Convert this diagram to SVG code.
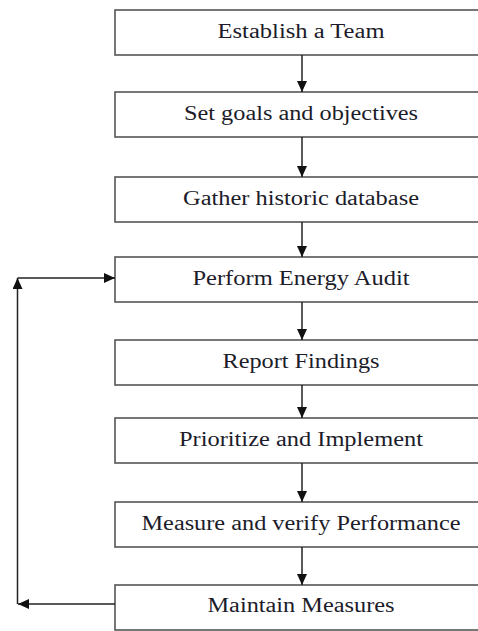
<svg xmlns="http://www.w3.org/2000/svg" width="478" height="631" viewBox="0 0 478 631">
<style>
.box{fill:#fff;stroke:#555;stroke-width:1.6}
.lbl{font-family:"Liberation Serif","Times New Roman",serif;font-size:20px;fill:#1c1c2a;text-anchor:middle}
.con{fill:none;stroke:#222;stroke-width:1.5}
</style>
<defs>
<marker id="ah" markerUnits="userSpaceOnUse" markerWidth="12" markerHeight="11" refX="11" refY="5" orient="auto">
<path d="M0,0 L11,5 L0,10 z" fill="#111"/>
</marker>
</defs>
<g id="n1"><rect class="box" x="115" y="10" width="375" height="45"/><text class="lbl" x="301" y="38" textLength="167" lengthAdjust="spacingAndGlyphs">Establish a Team</text></g>
<g id="n2"><rect class="box" x="115" y="92" width="375" height="45"/><text class="lbl" x="301" y="120" textLength="234" lengthAdjust="spacingAndGlyphs">Set goals and objectives</text></g>
<g id="n3"><rect class="box" x="115" y="177" width="375" height="45"/><text class="lbl" x="301" y="205" textLength="236" lengthAdjust="spacingAndGlyphs">Gather historic database</text></g>
<g id="n4"><rect class="box" x="115" y="257" width="375" height="45"/><text class="lbl" x="301" y="285" textLength="217" lengthAdjust="spacingAndGlyphs">Perform Energy Audit</text></g>
<g id="n5"><rect class="box" x="115" y="340" width="375" height="45"/><text class="lbl" x="301" y="368" textLength="157" lengthAdjust="spacingAndGlyphs">Report Findings</text></g>
<g id="n6"><rect class="box" x="115" y="418" width="375" height="45"/><text class="lbl" x="301" y="446" textLength="244" lengthAdjust="spacingAndGlyphs">Prioritize and Implement</text></g>
<g id="n7"><rect class="box" x="115" y="502" width="375" height="45"/><text class="lbl" x="301" y="530" textLength="319" lengthAdjust="spacingAndGlyphs">Measure and verify Performance</text></g>
<g id="n8"><rect class="box" x="115" y="585" width="375" height="45"/><text class="lbl" x="301" y="612" textLength="187" lengthAdjust="spacingAndGlyphs">Maintain Measures</text></g>
<g id="connectors">
<line class="con" x1="302" y1="55" x2="302" y2="92" marker-end="url(#ah)"/>
<line class="con" x1="302" y1="137" x2="302" y2="177" marker-end="url(#ah)"/>
<line class="con" x1="302" y1="222" x2="302" y2="257" marker-end="url(#ah)"/>
<line class="con" x1="302" y1="302" x2="302" y2="340" marker-end="url(#ah)"/>
<line class="con" x1="302" y1="385" x2="302" y2="418" marker-end="url(#ah)"/>
<line class="con" x1="302" y1="463" x2="302" y2="502" marker-end="url(#ah)"/>
<line class="con" x1="302" y1="547" x2="302" y2="585" marker-end="url(#ah)"/>
<line class="con" x1="115" y1="604" x2="18" y2="604" marker-end="url(#ah)"/>
<line class="con" x1="17.5" y1="604" x2="17.5" y2="278" marker-end="url(#ah)"/>
<line class="con" x1="17.5" y1="278" x2="115" y2="278" marker-end="url(#ah)"/>
</g>
</svg>
